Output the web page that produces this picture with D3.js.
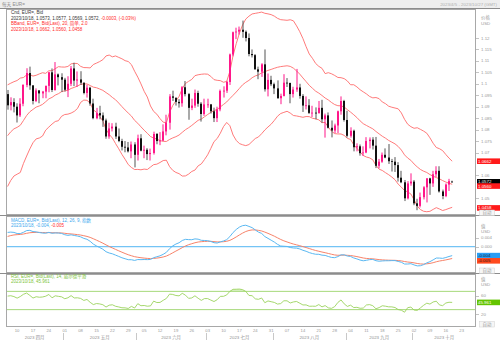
<!DOCTYPE html>
<html>
<head>
<meta charset="utf-8">
<script src="https://cdn.jsdelivr.net/npm/d3@7"></script>
<style>
  body { margin: 0; background: #fff; }
  svg { display: block; font-family: "Liberation Sans", "Noto Sans CJK SC", sans-serif; }
</style>
</head>
<body>
<svg id="chart" width="500" height="340"></svg>
<script>
// ---- EUR= daily bars, 2023/4/5 .. 2023/10/18 (one value per trading day) ----
const firstDay = "2023-04-05";
const lastDay = "2023-10-27";

const opens = [
  1.0955,1.0906,1.0920,1.0900,1.0862,1.0913,1.0995,1.1047,1.0993,1.0925,1.0971,1.0958,1.0966,1.0991,1.1050,1.0973,1.1041,1.1029,
  1.1018,1.0974,1.1000,1.1067,1.1014,1.1019,1.1005,1.0960,1.0983,1.0914,1.0850,1.0872,1.0862,1.0840,1.0770,1.0805,1.0813,1.0770,1.0750,1.0725,1.0722,1.0705,1.0735,
  1.0690,1.0762,1.0708,1.0712,1.0693,1.0698,1.0781,1.0750,1.0752,1.0792,1.0830,1.0945,1.0939,1.0921,1.0915,1.0985,1.0955,1.0895,1.0905,1.0960,1.0913,1.0868,
  1.0910,1.0910,1.0880,1.0850,1.0888,1.0969,1.0970,1.1008,1.1128,1.1225,1.1228,1.1236,1.1227,1.1200,1.1130,1.1125,1.1063,1.1053,1.1085,1.0976,1.1017,
  1.0998,1.0980,1.0937,1.0947,1.1005,1.1004,1.0955,1.0975,1.0984,1.0947,1.0905,1.0906,1.0873,1.0874,1.0872,1.0895,1.0845,1.0862,1.0808,1.0796,1.0818,1.0880,1.0925,
  1.0842,1.0773,1.0795,1.0723,1.0727,1.0697,1.0700,1.0750,1.0756,1.0730,1.0642,1.0660,1.0690,1.0678,1.0662,1.0660,1.0645,1.0590,1.0570,1.0500,1.0565,
  1.0573,1.0478,1.0467,1.0505,1.0548,1.0587,1.0565,1.0605,1.0620,1.0530,1.0510,1.0560,1.0573
];
const highs = [
  1.0973,1.0941,1.0937,1.0915,1.0937,1.0998,1.1068,1.1075,1.0994,1.0980,1.0973,1.0969,1.0992,1.1052,1.1067,1.1095,1.1045,1.1046,
  1.1026,1.1033,1.1078,1.1092,1.1054,1.1055,1.1005,1.0995,1.0987,1.0935,1.0895,1.0904,1.0875,1.0848,1.0830,1.0828,1.0830,1.0805,1.0760,1.0750,1.0746,1.0748,1.0745,
  1.0778,1.0780,1.0730,1.0719,1.0717,1.0791,1.0785,1.0789,1.0823,1.0865,1.0955,1.0970,1.0940,1.0933,1.0990,1.1012,1.0960,1.0935,1.0975,1.0970,1.0920,1.0935,
  1.0935,1.0912,1.0896,1.0900,1.0975,1.0989,1.1013,1.1132,1.1228,1.1245,1.1250,1.1276,1.1233,1.1220,1.1150,1.1130,1.1075,1.1090,1.1150,1.1045,1.1035,
  1.1005,1.1015,1.0957,1.1042,1.1025,1.1004,1.0987,1.1065,1.1000,1.0955,1.0945,1.0933,1.0904,1.0897,1.0925,1.0930,1.0870,1.0875,1.0840,1.0826,1.0883,1.0945,1.0930,
  1.0882,1.0810,1.0800,1.0740,1.0735,1.0727,1.0767,1.0766,1.0767,1.0768,1.0672,1.0700,1.0718,1.0737,1.0672,1.0680,1.0658,1.0620,1.0580,1.0575,1.0609,
  1.0580,1.0498,1.0525,1.0553,1.0588,1.0590,1.0620,1.0640,1.0640,1.0538,1.0565,1.0585,1.0577
];
const lows = [
  1.0887,1.0884,1.0875,1.0831,1.0855,1.0902,1.0985,1.0974,1.0910,1.0920,1.0915,1.0937,1.0937,1.0963,1.0964,1.0970,1.0993,1.0964,
  1.0966,1.0942,1.0990,1.0990,1.0986,1.0995,1.0954,1.0940,1.0904,1.0845,1.0845,1.0845,1.0812,1.0760,1.0760,1.0792,1.0759,1.0745,1.0709,1.0701,1.0700,1.0675,1.0635,
  1.0665,1.0705,1.0675,1.0667,1.0665,1.0691,1.0736,1.0732,1.0750,1.0775,1.0800,1.0925,1.0905,1.0896,1.0900,1.0945,1.0843,1.0885,1.0895,1.0900,1.0835,1.0860,
  1.0895,1.0870,1.0833,1.0833,1.0880,1.0940,1.0960,1.0995,1.1120,1.1195,1.1215,1.1201,1.1185,1.1120,1.1115,1.1063,1.1020,1.1030,1.0966,1.0945,1.0990,
  1.0955,1.0935,1.0911,1.0945,1.0986,1.0915,1.0940,1.0965,1.0935,1.0877,1.0888,1.0868,1.0855,1.0845,1.0870,1.0830,1.0765,1.0805,1.0766,1.0785,1.0785,1.0865,1.0835,
  1.0765,1.0765,1.0705,1.0705,1.0686,1.0685,1.0697,1.0718,1.0713,1.0632,1.0631,1.0655,1.0675,1.0650,1.0617,1.0615,1.0573,1.0566,1.0488,1.0495,1.0555,
  1.0470,1.0448,1.0460,1.0495,1.0482,1.0515,1.0550,1.0593,1.0525,1.0496,1.0505,1.0532,1.0569
];
const closes = [
  1.0906,1.0920,1.0900,1.0862,1.0913,1.0995,1.1047,1.0993,1.0925,1.0971,1.0958,1.0966,1.0991,1.1050,1.0973,1.1041,1.1029,1.1018,
  1.0974,1.1000,1.1067,1.1014,1.1019,1.1005,1.0960,1.0983,1.0914,1.0850,1.0872,1.0862,1.0840,1.0770,1.0805,1.0813,1.0770,1.0750,1.0725,1.0722,1.0705,1.0735,1.0690,
  1.0762,1.0708,1.0712,1.0693,1.0698,1.0781,1.0750,1.0752,1.0792,1.0830,1.0945,1.0939,1.0921,1.0915,1.0985,1.0955,1.0895,1.0905,1.0960,1.0913,1.0868,1.0910,
  1.0910,1.0880,1.0850,1.0888,1.0969,1.0970,1.1008,1.1128,1.1225,1.1228,1.1236,1.1227,1.1200,1.1130,1.1125,1.1063,1.1053,1.1085,1.0976,1.1017,1.0998,
  1.0980,1.0937,1.0947,1.1005,1.1004,1.0955,1.0975,1.0984,1.0947,1.0905,1.0906,1.0873,1.0874,1.0872,1.0895,1.0845,1.0862,1.0808,1.0796,1.0818,1.0880,1.0925,1.0842,
  1.0773,1.0795,1.0723,1.0727,1.0697,1.0700,1.0750,1.0756,1.0730,1.0642,1.0660,1.0690,1.0678,1.0662,1.0660,1.0645,1.0590,1.0570,1.0500,1.0565,1.0573,
  1.0478,1.0467,1.0505,1.0548,1.0587,1.0565,1.0605,1.0620,1.0530,1.0510,1.0560,1.0575,1.0572
];
// Closes from 2023/1/3 to 2023/4/4, used only to warm up the indicators
const warmupCloses = [
  1.0545,1.0605,1.0520,1.0645,1.0733,1.0735,1.0762,1.0850,1.0830,1.0822,1.0790,1.0795,1.0830,1.0855,1.0870,1.0885,1.0915,1.0890,1.0870,1.0845,1.0863,
  1.0990,1.0910,1.0795,1.0725,1.0727,1.0713,1.0740,1.0678,1.0723,1.0740,1.0688,1.0675,1.0695,1.0686,1.0649,1.0605,1.0595,1.0545,1.0608,1.0576,
  1.0668,1.0596,1.0635,1.0683,1.0548,1.0545,1.0582,1.0642,1.0730,1.0733,1.0577,1.0610,1.0669,1.0717,1.0769,1.0858,1.0830,1.0760,1.0800,1.0843,1.0843,1.0904,1.0839,
  1.0902,1.0955
];

// Axis labels
const priceTicks = [1.12,1.115,1.11,1.105,1.1,1.095,1.09,1.085,1.08,1.075,1.07,1.065,1.06,1.055,1.05];
const macdTicks = [0.004, 0];
const rsiTicks = [60, 20];
const rsiBounds = [70, 30];
const monthNames = ["一月","二月","三月","四月","五月","六月","七月","八月","九月","十月","十一月","十二月"];

// Legend texts and last values
const title = "每天 EUR=";
const rangeText = "2023/4/5 - 2023/10/27 (GMT)";
const candleLegend = ["Cnd, EUR=, Bid", "2023/10/18, 1.0573, 1.0577, 1.0569, 1.0572, ", "-0.0003, (-0.03%)"];
const bandLegend = ["BBand, EUR=, Bid(Last), 20, 简单, 2.0", "2023/10/18, 1.0662, 1.0560, 1.0458"];
const macdLegend = ["MACD, EUR=, Bid(Last), 12, 26, 9, 指数", "2023/10/18, -0.004, ", "-0.005"];
const rsiLegend = ["RSI, EUR=, Bid(Last), 14, 威尔德平滑", "2023/10/18, 45.961"];
const bandLast = [1.0662, 1.0560, 1.0458];

// ---- indicators from the closing prices ----
const all = warmupCloses.concat(closes);
const off = warmupCloses.length;
const bandUp = [], bandMid = [], bandLo = [];
for (let i = off; i < all.length; i++) {
  const w = all.slice(i - 19, i + 1);
  const m = d3.mean(w);
  const sd = Math.sqrt(d3.mean(w, v => (v - m) * (v - m)));
  bandMid.push(m); bandUp.push(m + 2 * sd); bandLo.push(m - 2 * sd);
}
function ema(arr, n) {
  const k = 2 / (n + 1), out = [arr[0]];
  for (let i = 1; i < arr.length; i++) out.push(arr[i] * k + out[i - 1] * (1 - k));
  return out;
}
const e12 = ema(all, 12), e26 = ema(all, 26);
const macdAll = all.map((v, i) => e12[i] - e26[i]);
const sigAll = ema(macdAll, 9);
const macdLine = macdAll.slice(off), signalLine = sigAll.slice(off);
// Wilder RSI(14)
const rsiAll = [];
{
  let g = 0, l = 0;
  for (let i = 1; i <= 14; i++) { const d = all[i] - all[i - 1]; if (d > 0) g += d; else l -= d; }
  g /= 14; l /= 14;
  for (let i = 15; i < all.length; i++) {
    const d = all[i] - all[i - 1];
    g = (g * 13 + Math.max(d, 0)) / 14;
    l = (l * 13 + Math.max(-d, 0)) / 14;
    rsiAll[i] = 100 - 100 / (1 + g / l);
  }
}
const rsiLine = rsiAll.slice(off);

// ---- layout ----
const svg = d3.select("#chart");
const X0 = 6, X1 = 476;
const MAIN = [9, 215], MACD = [216, 273], RSI = [274, 327];

const days = [];
for (let d = new Date(firstDay + "T00:00:00Z"); d <= new Date(lastDay + "T00:00:00Z"); d.setUTCDate(d.getUTCDate() + 1)) {
  if (d.getUTCDay() % 6) days.push(new Date(d));
}
const key = d => d.toISOString().slice(0, 10);
const x = d3.scaleBand().domain(days.map(key)).range([X0, X1]);
const bw = x.bandwidth();
const cx = i => x(key(days[i])) + bw / 2;

const yP = d3.scaleLinear().domain([1.04271, 1.13266]).range([MAIN[1], MAIN[0]]);
const yM = d3.scaleLinear().domain([-0.0117, 0.01364]).range([MACD[1], MACD[0]]);
const yR = d3.scaleLinear().domain([-8, 108]).range([RSI[1], RSI[0]]);

const C = {
  bull: "#ff178a", bullWick: "#ff178a", bear: "#111", bearWick: "#555",
  band: "#ff6b6b", macd: "#5ab8f2", signal: "#f7836a", zero: "#74c4f5",
  rsi: "#9bd35c", rsiLevel: "#a6d97a", rsiFill: "#dcf1c8",
  legendRed: "#ff2a2a", axisText: "#9a9a9a", frame: "#a8a8a8"
};

// header strip
svg.append("rect").attr("x", 0).attr("y", 0).attr("width", 500).attr("height", 8).attr("fill", "#eeeeee");
svg.append("text").attr("x", 2).attr("y", 6).attr("font-size", 4.6).attr("fill", "#8a8a8a").text(title);
svg.append("text").attr("x", 497).attr("y", 6).attr("text-anchor", "end").attr("font-size", 4.4).attr("fill", "#b0b0b0").text(rangeText);
svg.append("line").attr("x1", 0).attr("x2", 500).attr("y1", 8.5).attr("y2", 8.5).attr("stroke", "#8c8c8c");

// panel frames and separators
[MAIN, MACD, RSI].forEach(p => {
  svg.append("rect").attr("x", X0 + 0.5).attr("y", p[0] + 0.5).attr("width", X1 - X0 - 1).attr("height", p[1] - p[0] - 1)
    .attr("fill", "none").attr("stroke", C.frame).attr("stroke-width", 1);
});
[MAIN[1] + 0.5, MACD[1] + 0.5].forEach(yy => {
  svg.append("line").attr("x1", 0).attr("x2", 500).attr("y1", yy).attr("y2", yy).attr("stroke", "#8c8c8c");
});

const defs = svg.append("defs");
function clip(id, p) {
  defs.append("clipPath").attr("id", id).append("rect").attr("x", X0 + 1).attr("y", p[0] + 1).attr("width", X1 - X0 - 2).attr("height", p[1] - p[0] - 2);
  return svg.append("g").attr("clip-path", `url(#${id})`);
}

// ---- price panel ----
const gP = clip("cp", MAIN);
const lineP = arr => d3.line().x((d, i) => cx(i)).y(d => yP(d))(arr);
[bandUp, bandMid, bandLo].forEach(b => {
  gP.append("path").attr("d", lineP(b)).attr("fill", "none").attr("stroke", C.band).attr("stroke-width", 0.9);
});
closes.forEach((c, i) => {
  const o = opens[i], up = c >= o;
  const xl = Math.round(cx(i) - 1);
  gP.append("rect").attr("x", xl + 0.5).attr("width", 1)
    .attr("y", yP(highs[i])).attr("height", Math.max(0.6, yP(lows[i]) - yP(highs[i])))
    .attr("fill", up ? C.bullWick : C.bearWick);
  const yt = yP(Math.max(o, c)), yb = yP(Math.min(o, c));
  gP.append("rect").attr("x", xl).attr("width", 2)
    .attr("y", yt).attr("height", Math.max(0.8, yb - yt))
    .attr("fill", up ? C.bull : C.bear);
});

// ---- MACD panel ----
const gM = clip("cm", MACD);
gM.append("line").attr("x1", X0).attr("x2", X1).attr("y1", yM(0)).attr("y2", yM(0)).attr("stroke", C.zero).attr("stroke-width", 1.3);
const lineM = d3.line().x((d, i) => cx(i)).y(d => yM(d));
gM.append("path").attr("d", lineM(signalLine)).attr("fill", "none").attr("stroke", C.signal).attr("stroke-width", 1);
gM.append("path").attr("d", lineM(macdLine)).attr("fill", "none").attr("stroke", C.macd).attr("stroke-width", 1);

// ---- RSI panel ----
const gR = clip("cr", RSI);
gR.append("path")
  .attr("d", d3.area().x((d, i) => cx(i)).y0(yR(rsiBounds[0])).y1(d => yR(Math.max(d, rsiBounds[0])))(rsiLine))
  .attr("fill", C.rsiFill);
rsiBounds.forEach(v => {
  gR.append("line").attr("x1", X0).attr("x2", X1).attr("y1", yR(v)).attr("y2", yR(v)).attr("stroke", C.rsiLevel).attr("stroke-width", 1);
});
gR.append("path").attr("d", d3.line().x((d, i) => cx(i)).y(d => yR(d))(rsiLine)).attr("fill", "none").attr("stroke", C.rsi).attr("stroke-width", 0.9);

// ---- right-hand value axes ----
const fs = 4.4;
const boxes = [];   // value boxes drawn on the right axis, tick labels under them are skipped
boxes.push({ y: yP(bandLast[0]), t: "1.0662", bg: "#ff1a1a", fg: "#fff" });
boxes.push({ y: yP(closes[closes.length - 1]), t: "1.0572", bg: "#000", fg: "#fff" });
boxes.push({ y: yP(bandLast[1]) + 1.5, t: "1.0560", bg: "#ff1a1a", fg: "#fff" });
boxes.push({ y: yP(bandLast[2]), t: "1.0458", bg: "#ff1a1a", fg: "#fff" });
boxes.push({ y: yM(macdLine[macdLine.length - 1]), t: "-0.004", bg: "#2a9df4", fg: "#102030" });
boxes.push({ y: yM(macdLine[macdLine.length - 1]) + 5.2, t: "-0.005", bg: "#ff4a1f", fg: "#301010" });
boxes.push({ y: yR(rsiLine[rsiLine.length - 1]), t: "45.961", bg: "#63c400", fg: "#fff" });
const free = yy => boxes.every(b => Math.abs(b.y - yy) > 5);

function axisText(xx, yy, t, col) {
  svg.append("text").attr("x", xx).attr("y", yy).attr("dy", "0.35em").attr("font-size", fs).attr("fill", col || C.axisText).text(t);
}
function tickMark(yy) {
  svg.append("line").attr("x1", X1).attr("x2", X1 + 3).attr("y1", Math.round(yy) + 0.5).attr("y2", Math.round(yy) + 0.5).attr("stroke", "#c4c4c4");
}
priceTicks.forEach(v => { if (free(yP(v))) { tickMark(yP(v)); axisText(481, yP(v), String(+v.toFixed(3))); } });
axisText(481, 17, "价格"); axisText(481, 23, "USD");
macdTicks.forEach(v => { if (free(yM(v))) { tickMark(yM(v)); axisText(481, yM(v), v.toFixed(3)); } });
axisText(481, 226, "值"); axisText(481, 231.5, "USD");
rsiTicks.forEach(v => { if (free(yR(v))) { tickMark(yR(v)); axisText(481, yR(v), String(v)); } });
axisText(481, 279, "值"); axisText(481, 284.5, "USD");

boxes.forEach(b => {
  svg.append("rect").attr("x", 477).attr("y", b.y - 2.8).attr("width", 23).attr("height", 5.6).attr("fill", b.bg);
  svg.append("text").attr("x", 478).attr("y", b.y).attr("dy", "0.35em").attr("font-size", fs).attr("fill", b.fg).text(b.t);
});

function autoTag(yy) {
  svg.append("rect").attr("x", 479.5).attr("y", yy - 2.5).attr("width", 15).attr("height", 5.5).attr("fill", "#f6f6f6").attr("stroke", "#d0d0d0").attr("stroke-width", 0.5);
  svg.append("text").attr("x", 487).attr("y", yy + 0.3).attr("dy", "0.35em").attr("text-anchor", "middle").attr("font-size", 4.4).attr("fill", "#9a9a9a").text("自动");
}
autoTag(212.5); autoTag(270.5); autoTag(324);

// ---- legends ----
function legendLine(yy, parts) {
  const t = svg.append("text").attr("x", 11).attr("y", yy).attr("font-size", 4.5);
  parts.forEach(p => t.append("tspan").attr("fill", p[1]).text(p[0]));
}
legendLine(14, [[candleLegend[0], "#333"]]);
legendLine(19.6, [[candleLegend[1], "#333"], [candleLegend[2], C.legendRed]]);
legendLine(25.2, [[bandLegend[0], C.legendRed]]);
legendLine(30.8, [[bandLegend[1], C.legendRed]]);
legendLine(221.5, [[macdLegend[0], "#3ea7ee"]]);
legendLine(227, [[macdLegend[1], "#3ea7ee"], [macdLegend[2], C.legendRed]]);
legendLine(278, [[rsiLegend[0], "#7cc43a"]]);
legendLine(283.3, [[rsiLegend[1], "#7cc43a"]]);

// ---- time axis ----
days.forEach((d, i) => {
  if (d.getUTCDay() === 1) {
    svg.append("text").attr("x", cx(i)).attr("y", 332).attr("text-anchor", "middle").attr("font-size", 4.2).attr("fill", C.axisText)
      .text(String(d.getUTCDate()).padStart(2, "0"));
  }
});
const months = d3.groups(days.map((d, i) => [d.getUTCMonth(), i]), v => v[0]);
months.forEach(([m, list], k) => {
  const a = x(key(days[list[0][1]])), b = x(key(days[list[list.length - 1][1]])) + bw;
  if (k > 0) svg.append("line").attr("x1", Math.round(a) + 0.5).attr("x2", Math.round(a) + 0.5).attr("y1", 333).attr("y2", 340).attr("stroke", "#c8c8c8");
  svg.append("text").attr("x", (a + b) / 2).attr("y", 338.5).attr("text-anchor", "middle").attr("font-size", 4.4).attr("fill", "#8f8f8f")
    .text("2023 " + monthNames[m]);
});
</script>
</body>
</html>
